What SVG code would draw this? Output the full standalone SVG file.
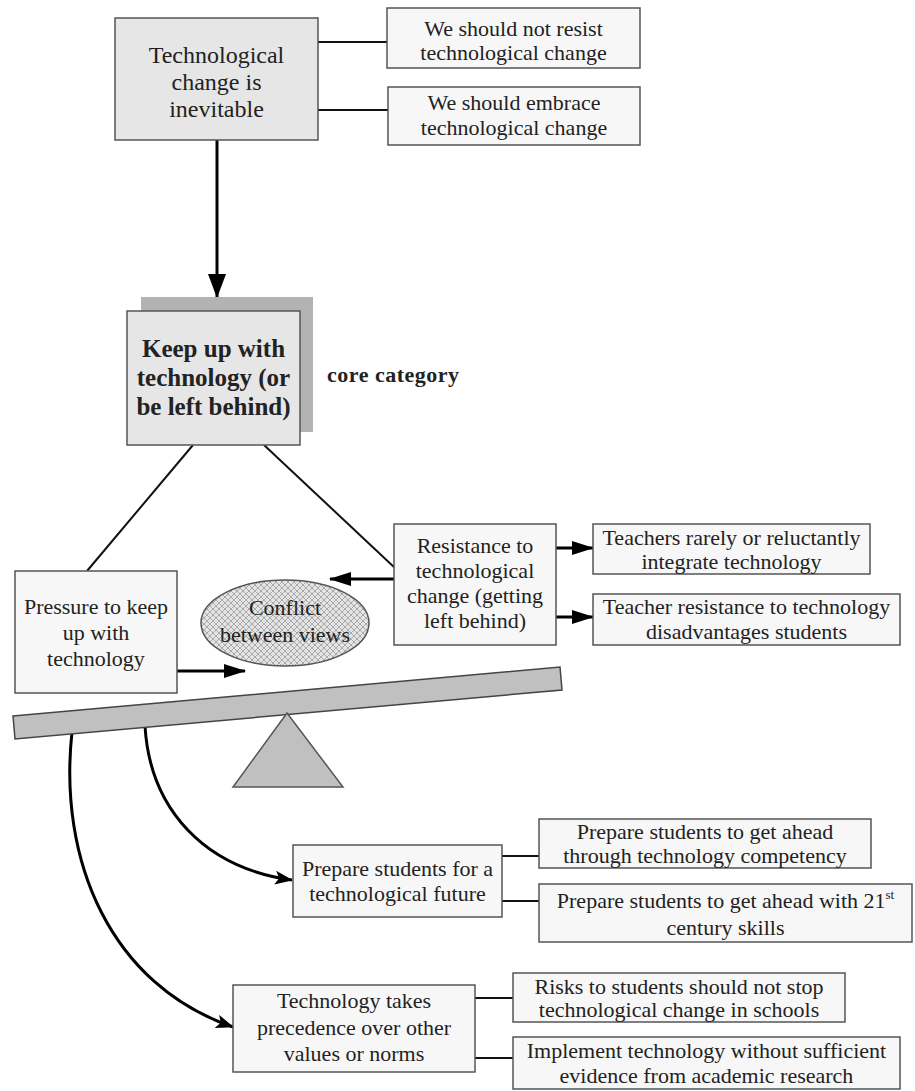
<svg xmlns="http://www.w3.org/2000/svg" width="915" height="1091" viewBox="0 0 915 1091">
<style>
.t{font-family:"Liberation Serif","Times New Roman",serif;font-size:22px;fill:#222;text-anchor:middle}
.tb{font-family:"Liberation Serif","Times New Roman",serif;font-size:25px;font-weight:bold;fill:#222;text-anchor:middle}
.box{fill:#f7f7f7;stroke:#555;stroke-width:1.5}
.gbox{fill:#e6e6e6;stroke:#555;stroke-width:1.5}
.ln{fill:none;stroke:#111;stroke-width:2}
.ar{fill:none;stroke:#000;stroke-width:3}
</style>
<defs>
<marker id="ah" markerUnits="userSpaceOnUse" markerWidth="22" markerHeight="14" viewBox="0 0 22 14" refX="21" refY="7" orient="auto"><path d="M0,0 L22,7 L0,14 z" fill="#000"/></marker>
<marker id="ahBig" markerUnits="userSpaceOnUse" markerWidth="24" markerHeight="18" viewBox="0 0 24 18" refX="23" refY="9" orient="auto"><path d="M0,0 L24,9 L0,18 z" fill="#000"/></marker>
<marker id="ahS" markerUnits="userSpaceOnUse" markerWidth="18" markerHeight="14" viewBox="0 0 18 14" refX="17" refY="7" orient="auto"><path d="M0,0 L18,7 L0,14 L4,7 z" fill="#000"/></marker>
<pattern id="hatch" patternUnits="userSpaceOnUse" width="6" height="6">
<rect width="6" height="6" fill="#e4e4e4"/>
<path d="M0,0 L6,6 M6,0 L0,6" stroke="#9a9a9a" stroke-width="0.8"/>
</pattern>
</defs>

<g id="connectors">
<line class="ln" x1="318" y1="42" x2="387" y2="42"/>
<line class="ln" x1="318" y1="110" x2="388" y2="110"/>
<line class="ar" x1="217" y1="140" x2="217" y2="297" marker-end="url(#ahBig)"/>
<line class="ln" x1="193" y1="445" x2="87" y2="571"/>
<line class="ln" x1="264" y1="445" x2="395" y2="568"/>
<line class="ar" x1="394" y1="579" x2="330" y2="579" marker-end="url(#ah)"/>
<line class="ar" x1="177" y1="671" x2="245" y2="671" marker-end="url(#ah)"/>
<line class="ar" x1="556" y1="548" x2="593" y2="548" marker-end="url(#ah)"/>
<line class="ar" x1="556" y1="617" x2="593" y2="617" marker-end="url(#ah)"/>
<path class="ar" d="M145,726 C150,810 205,868 292,880" marker-end="url(#ahS)"/>
<path class="ar" d="M72,732 C58,860 110,985 233,1027" marker-end="url(#ahS)"/>
<line class="ln" x1="502" y1="856" x2="539" y2="856"/>
<line class="ln" x1="502" y1="901" x2="539" y2="901"/>
<line class="ln" x1="475" y1="998" x2="513" y2="998"/>
<line class="ln" x1="475" y1="1058" x2="513" y2="1058"/>
</g>

<g id="inevitable">
<rect class="gbox" x="115" y="18" width="203" height="122"/>
<text class="t" style="font-size:24px" x="216.5" y="63">Technological</text>
<text class="t" style="font-size:24px" x="216.5" y="90">change is</text>
<text class="t" style="font-size:24px" x="216.5" y="117">inevitable</text>
</g>

<g id="not-resist">
<rect class="box" x="387" y="8" width="253" height="60"/>
<text class="t" x="513.5" y="36">We should not resist</text>
<text class="t" x="513.5" y="60">technological change</text>
</g>

<g id="embrace">
<rect class="box" x="388" y="87" width="252" height="58"/>
<text class="t" x="514" y="110">We should embrace</text>
<text class="t" x="514" y="135">technological change</text>
</g>

<g id="keep-up">
<rect x="141" y="297" width="172" height="135" fill="#b3b3b3"/>
<rect class="gbox" x="127" y="311" width="173" height="134"/>
<text class="tb" x="213.5" y="357">Keep up with</text>
<text class="tb" x="213.5" y="386">technology (or</text>
<text class="tb" x="213.5" y="415">be left behind)</text>
</g>

<g id="core-label">
<text x="327" y="382" style="font-family:'Liberation Serif','Times New Roman',serif;font-size:22px;font-weight:bold;fill:#222;letter-spacing:0.5px">core category</text>
</g>

<g id="pressure">
<rect class="box" x="15" y="571" width="162" height="122"/>
<text class="t" x="96" y="614">Pressure to keep</text>
<text class="t" x="96" y="640">up with</text>
<text class="t" x="96" y="666">technology</text>
</g>

<g id="conflict">
<ellipse cx="285" cy="623" rx="84" ry="43" fill="url(#hatch)" stroke="#555" stroke-width="1.5"/>
<text class="t" x="285" y="615">Conflict</text>
<text class="t" x="285" y="642">between views</text>
</g>

<g id="resistance">
<rect class="box" x="394" y="524" width="162" height="121"/>
<text class="t" x="475" y="553">Resistance to</text>
<text class="t" x="475" y="578">technological</text>
<text class="t" x="475" y="603">change (getting</text>
<text class="t" x="475" y="628">left behind)</text>
</g>

<g id="rarely">
<rect class="box" x="593" y="524" width="277" height="50"/>
<text class="t" x="731.5" y="545">Teachers rarely or reluctantly</text>
<text class="t" x="731.5" y="569">integrate technology</text>
</g>

<g id="disadvantages">
<rect class="box" x="593" y="594" width="307" height="51"/>
<text class="t" x="746.5" y="614">Teacher resistance to technology</text>
<text class="t" x="746.5" y="639">disadvantages students</text>
</g>

<g id="seesaw">
<polygon points="13,716 560,667 562,690 15,739" fill="#c0c0c0" stroke="#444" stroke-width="1.5"/>
<polygon points="287,713 233,787 343,787" fill="#c0c0c0" stroke="#555" stroke-width="1.5"/>
</g>

<g id="prepare">
<rect class="box" x="293" y="845" width="209" height="72"/>
<text class="t" x="397.5" y="876">Prepare students for a</text>
<text class="t" x="397.5" y="901">technological future</text>
</g>

<g id="competency">
<rect class="box" x="539" y="819" width="332" height="49"/>
<text class="t" x="705" y="839">Prepare students to get ahead</text>
<text class="t" x="705" y="863">through technology competency</text>
</g>

<g id="skills">
<rect class="box" x="539" y="884" width="373" height="58"/>
<text class="t" x="725.5" y="908">Prepare students to get ahead with 21<tspan dy="-9" style="font-size:13px">st</tspan></text>
<text class="t" x="725.5" y="935">century skills</text>
</g>

<g id="precedence">
<rect class="box" x="233" y="985" width="242" height="87"/>
<text class="t" x="354" y="1008">Technology takes</text>
<text class="t" x="354" y="1035">precedence over other</text>
<text class="t" x="354" y="1061">values or norms</text>
</g>

<g id="risks">
<rect class="box" x="513" y="973" width="332" height="49"/>
<text class="t" x="679" y="994">Risks to students should not stop</text>
<text class="t" x="679" y="1017">technological change in schools</text>
</g>

<g id="implement">
<rect class="box" x="513" y="1037" width="387" height="52"/>
<text class="t" x="706.5" y="1058">Implement technology without sufficient</text>
<text class="t" x="706.5" y="1083">evidence from academic research</text>
</g>
</svg>
